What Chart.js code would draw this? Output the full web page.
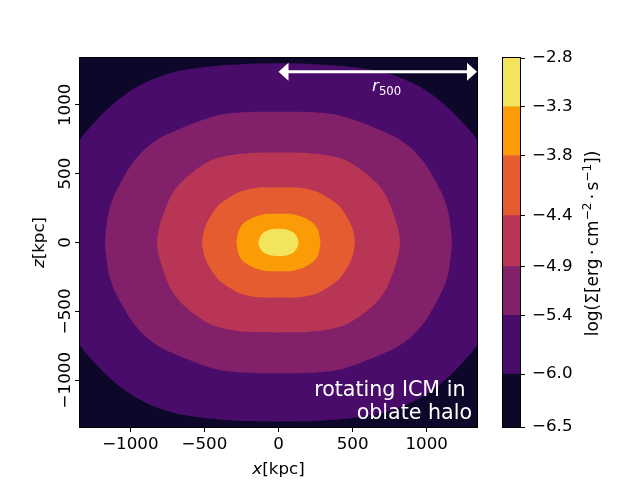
<!DOCTYPE html>
<html lang="en">
<head>
<meta charset="UTF-8">
<title>Rotating ICM in oblate halo</title>
<script src="https://cdn.jsdelivr.net/npm/chart.js"></script>
<style>
    html, body { margin: 0; padding: 0; background: #fff; }
    #wrap { position: relative; width: 640px; height: 480px; }
    #wrap canvas { position: absolute; left: 0; top: 0; }
</style>
</head>
<body>
<div id="wrap">
    <canvas id="mapChart" width="640" height="480"></canvas>
    <canvas id="barChart" width="640" height="480"></canvas>
</div>
<script>
// contour levels, log surface brightness (bottom of colour bar to top)
const levels = [-6.50, -5.97, -5.38, -4.89, -4.38, -3.78, -3.29, -2.80];
const levelColors = ['#0d0829', '#4a0c6b', '#822169', '#b93556', '#e55c30', '#fb9b06', '#f2e45d'];

const xTicks = [-1000, -500, 0, 500, 1000];
const zTicks = [-1000, -500, 0, 500, 1000];
const mapHalfWidth = 1340;   // kpc
const r500 = 1340;           // kpc
const arrowZ = 1240;

// contour outlines in the upper-left quarter (x <= 0, z >= 0),
// from the top of the z axis down to z = 0; the map is mirror symmetric
const c597 = [[0, 1302], [-226, 1297], [-451, 1280], [-677, 1245], [-790, 1210], [-903, 1160],
              [-1016, 1090], [-1128, 995], [-1241, 875], [-1336, 754], [-1420, 620], [-1500, 430],
              [-1550, 210], [-1565, 0]];
const c538 = [[0, 949], [-122, 949], [-257, 944], [-393, 928], [-528, 884], [-664, 826], [-795, 762],
              [-900, 680], [-991, 570], [-1058, 449], [-1115, 328], [-1149, 208], [-1167, 63], [-1171, 0]];
const c489 = [[0, 653], [-190, 650], [-347, 630], [-460, 594], [-567, 522], [-658, 437], [-726, 340],
              [-776, 208], [-810, 87], [-821, 0]];
const c438 = [[0, 400], [-144, 398], [-257, 370], [-347, 317], [-410, 265], [-445, 215], [-480, 150],
              [-505, 80], [-517, 0]];
const c378 = [[0, 208], [-77, 208], [-167, 183], [-235, 140], [-269, 87], [-284, 0]];
const c329 = [[0, 99], [-54, 95], [-99, 75], [-126, 39], [-137, 0]];
const contours = [c597, c538, c489, c438, c378, c329];

const FONT = '"DejaVu Sans", sans-serif';
const TICK_SIZE = 16.7;

// closed outline from one quarter
function ring(q) {
    const pts = [];
    q.forEach(([x, z]) => pts.push({x: x, y: z}));
    q.slice().reverse().forEach(([x, z]) => pts.push({x: x, y: -z}));
    q.forEach(([x, z]) => pts.push({x: -x, y: -z}));
    q.slice().reverse().forEach(([x, z]) => pts.push({x: -x, y: z}));
    return pts;
}

function minus(s) {
    return String(s).replace('-', '\u2212');
}

// draw text made of runs with different fonts / offsets
function drawRuns(ctx, runs, x, y, align) {
    let w = 0;
    runs.forEach(r => { ctx.font = r.font; r.w = ctx.measureText(r.t).width; w += r.w; });
    let cx = align === 'center' ? x - w / 2 : (align === 'right' ? x - w : x);
    ctx.textAlign = 'left';
    ctx.textBaseline = 'alphabetic';
    runs.forEach(r => {
        ctx.font = r.font;
        ctx.fillText(r.t, cx, y + (r.dy || 0));
        cx += r.w;
    });
}

const mapDecor = {
    id: 'mapDecor',
    beforeDatasetsDraw(chart) {
        const {ctx, chartArea: a} = chart;
        ctx.save();
        ctx.fillStyle = levelColors[0];
        ctx.fillRect(a.left, a.top, a.right - a.left, a.bottom - a.top);
        ctx.restore();
    },
    afterDatasetsDraw(chart) {
        const {ctx, scales: {x, y}} = chart;
        const ay = y.getPixelForValue(arrowZ);
        const x0 = x.getPixelForValue(0);
        const x1 = x.getPixelForValue(r500);
        ctx.save();
        ctx.strokeStyle = '#fff';
        ctx.fillStyle = '#fff';
        ctx.lineWidth = 3;
        ctx.beginPath();
        ctx.moveTo(x0 + 8, ay);
        ctx.lineTo(x1 - 8, ay);
        ctx.stroke();
        ctx.beginPath();
        ctx.moveTo(x0, ay); ctx.lineTo(x0 + 10, ay - 9); ctx.lineTo(x0 + 10, ay + 9); ctx.closePath();
        ctx.moveTo(x1, ay); ctx.lineTo(x1 - 10, ay - 9); ctx.lineTo(x1 - 10, ay + 9); ctx.closePath();
        ctx.fill();
        // r500 label
        drawRuns(ctx, [
            {t: 'r', font: 'italic 16.7px ' + FONT},
            {t: '500', font: '11.7px ' + FONT, dy: 3.5}
        ], x.getPixelForValue(730), y.getPixelForValue(1100), 'center');
        // annotation
        const a = chart.chartArea;
        ctx.font = '20.6px ' + FONT;
        ctx.textAlign = 'right';
        ctx.textBaseline = 'alphabetic';
        ctx.fillText('rotating ICM in ', a.right - 5, a.bottom - 31);
        ctx.fillText('oblate halo', a.right - 5, a.bottom - 8);
        ctx.restore();
    },
    afterDraw(chart) {
        const {ctx, chartArea: a, scales: {x, y}} = chart;
        ctx.save();
        ctx.strokeStyle = '#000';
        ctx.lineWidth = 1;
        ctx.strokeRect(a.left - 0.5, a.top - 0.5, a.right - a.left + 1, a.bottom - a.top + 1);
        ctx.fillStyle = '#000';
        // z tick labels, rotated
        y.ticks.forEach(t => {
            const py = y.getPixelForValue(t.value);
            ctx.save();
            ctx.translate(a.left - 10, py);
            ctx.rotate(-Math.PI / 2);
            ctx.font = TICK_SIZE + 'px ' + FONT;
            ctx.textAlign = 'center';
            ctx.textBaseline = 'alphabetic';
            ctx.fillText(minus(t.value), 0, 0);
            ctx.restore();
        });
        // axis titles
        drawRuns(ctx, [
            {t: 'x', font: 'italic 16.7px ' + FONT},
            {t: '[kpc]', font: '16.7px ' + FONT}
        ], (a.left + a.right) / 2, 474, 'center');
        ctx.save();
        ctx.translate(44, (a.top + a.bottom) / 2);
        ctx.rotate(-Math.PI / 2);
        drawRuns(ctx, [
            {t: 'z', font: 'italic 16.7px ' + FONT},
            {t: '[kpc]', font: '16.7px ' + FONT}
        ], 0, 0, 'center');
        ctx.restore();
        ctx.restore();
    }
};

const barDecor = {
    id: 'barDecor',
    afterDraw(chart) {
        const {ctx, chartArea: a} = chart;
        ctx.save();
        ctx.strokeStyle = '#000';
        ctx.lineWidth = 1;
        ctx.strokeRect(a.left - 0.5, a.top - 0.5, a.right - a.left + 1, a.bottom - a.top + 1);
        ctx.fillStyle = '#000';
        ctx.translate(597.5, (a.top + a.bottom) / 2 + 1);
        ctx.rotate(-Math.PI / 2);
        const f = '17px ' + FONT;
        const s = '12px ' + FONT;
        drawRuns(ctx, [
            {t: 'log(\u03a3[erg', font: f},
            {t: '\u2009\u00b7\u2009', font: f},
            {t: 'cm', font: f},
            {t: '\u22122', font: s, dy: -6.5},
            {t: '\u2009\u00b7\u2009', font: f},
            {t: 's', font: f},
            {t: '\u22121', font: s, dy: -6.5},
            {t: '])', font: f}
        ], 0, 0, 'center');
        ctx.restore();
    }
};

const tickGrid = {
    display: true,
    drawOnChartArea: false,
    drawTicks: true,
    tickLength: 5,
    color: '#000',
    lineWidth: 1
};

window.onload = function() {
    new Chart(document.getElementById('mapChart'), {
        type: 'scatter',
        data: {
            datasets: contours.map((c, i) => ({
                label: minus(levels[i + 1].toFixed(1)),
                data: ring(c),
                showLine: true,
                fill: 'shape',
                backgroundColor: levelColors[i + 1],
                borderColor: 'rgba(0,0,0,0)',
                borderWidth: 0,
                pointRadius: 0,
                pointHoverRadius: 0,
                tension: 0.25,
                order: 10 - i
            }))
        },
        options: {
            responsive: false,
            animation: false,
            events: [],
            layout: { padding: { left: 0, top: 58, right: 163, bottom: 0 } },
            plugins: { legend: { display: false }, tooltip: { enabled: false } },
            scales: {
                x: {
                    type: 'linear',
                    min: -mapHalfWidth,
                    max: mapHalfWidth,
                    afterBuildTicks: s => { s.ticks = xTicks.map(v => ({value: v})); },
                    afterFit: s => { s.height = 53; },
                    ticks: {
                        color: '#000',
                        padding: 3,
                        maxRotation: 0,
                        font: { family: FONT, size: TICK_SIZE },
                        callback: v => minus(v)
                    },
                    grid: tickGrid,
                    border: { display: false }
                },
                y: {
                    type: 'linear',
                    min: -mapHalfWidth,
                    max: mapHalfWidth,
                    afterBuildTicks: s => { s.ticks = zTicks.map(v => ({value: v})); },
                    afterFit: s => { s.width = 80; },
                    ticks: { display: false },
                    grid: tickGrid,
                    border: { display: false }
                }
            }
        },
        plugins: [mapDecor]
    });

    new Chart(document.getElementById('barChart'), {
        type: 'bar',
        data: {
            labels: [''],
            datasets: levelColors.map((c, i) => ({
                data: [[levels[i], levels[i + 1]]],
                backgroundColor: c,
                borderWidth: 0,
                barPercentage: 1,
                categoryPercentage: 1,
                grouped: false
            }))
        },
        options: {
            responsive: false,
            animation: false,
            events: [],
            layout: { padding: { left: 503, top: 58, right: 0, bottom: 53 } },
            plugins: { legend: { display: false }, tooltip: { enabled: false } },
            scales: {
                x: { display: false },
                y: {
                    position: 'right',
                    min: levels[0],
                    max: levels[levels.length - 1],
                    afterBuildTicks: s => { s.ticks = levels.map(v => ({value: v})); },
                    afterFit: s => { s.width = 120; },
                    ticks: {
                        color: '#000',
                        padding: 7,
                        font: { family: FONT, size: TICK_SIZE },
                        callback: v => minus(Number(v).toFixed(1))
                    },
                    grid: tickGrid,
                    border: { display: false }
                }
            }
        },
        plugins: [barDecor]
    });
};
</script>
</body>
</html>
